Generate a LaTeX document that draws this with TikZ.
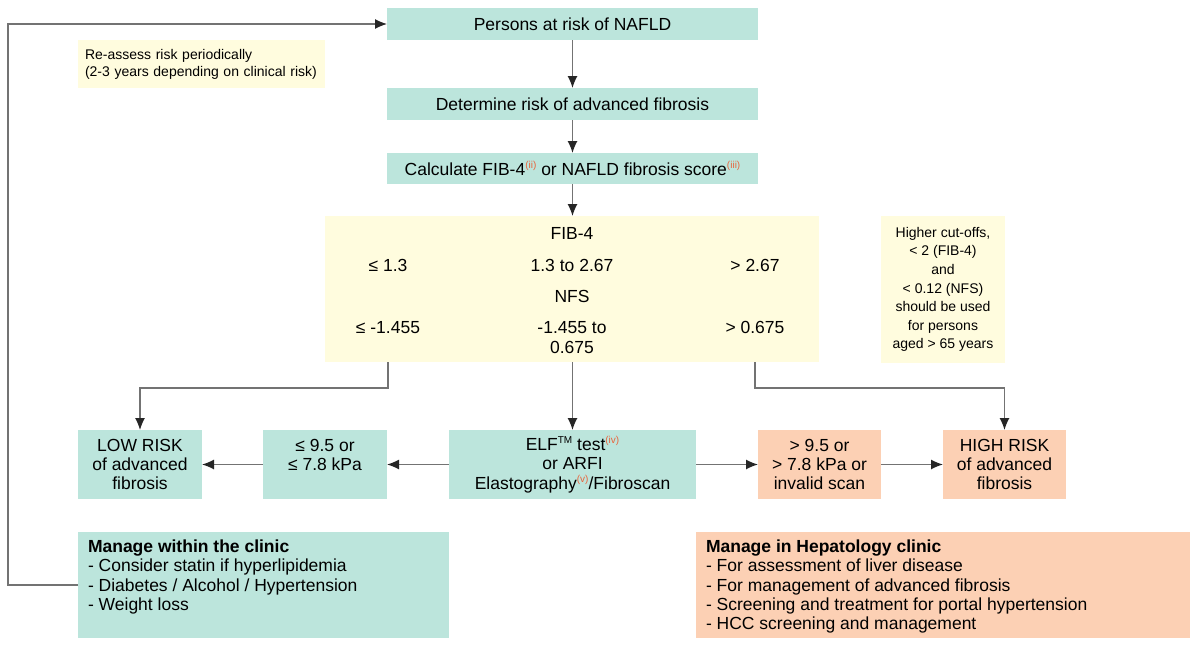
\documentclass[tikz,border=0pt]{standalone}
\usepackage{fontspec}
\setmainfont{Liberation Sans}
\usetikzlibrary{arrows.meta,calc}
\definecolor{teal0}{RGB}{188,229,220}
\definecolor{yel0}{RGB}{255,252,222}
\definecolor{sal0}{RGB}{252,208,180}
\definecolor{supc}{RGB}{232,100,60}
\definecolor{linec}{RGB}{115,115,115}
\newcommand{\refsup}[1]{\raisebox{7pt}{\fontsize{10}{10}\selectfont\color{supc}#1}}
\newcommand{\tmsup}{\raisebox{7pt}{\fontsize{10}{10}\selectfont TM}}
\begin{document}
\begin{tikzpicture}[x=1pt,y=-1pt,
  every node/.style={font=\fontsize{17.5}{19.3}\selectfont, inner sep=0pt, outer sep=0pt},
  tealbox/.style={fill=teal0},
  yelbox/.style={fill=yel0},
  salbox/.style={fill=sal0},
  rowbox/.style={minimum height=69pt, align=center},
  conn/.style={draw=linec, line width=1.2pt, -{Latex[length=12pt,width=10pt,color=black!85]}}
]
\useasboundingbox (0,0) rectangle (1200,659);

% top column
\node[tealbox, minimum width=371pt, minimum height=32pt] (top) at (572.5,24) {Persons at risk of NAFLD};
\node[tealbox, minimum width=371pt, minimum height=32pt] (det) at (572.5,104) {Determine risk of advanced fibrosis};
\node[tealbox, minimum width=371pt, minimum height=31pt] (calc) at (572.5,168.5) {Calculate FIB-4\refsup{(ii)} or NAFLD fibrosis score\refsup{(iii)}};

% notes
\node[yelbox, minimum width=247pt, minimum height=48pt, text width=233pt, align=left,
      font=\fontsize{14}{17}\selectfont] (re) at (201.5,64)
      {Re-assess risk periodically\\(2-3 years depending on clinical risk)};
\node[yelbox, minimum width=124pt, minimum height=147pt, align=center,
      font=\fontsize{14}{18.6}\selectfont] (note) at (943,289.5)
      {Higher cut-offs,\\< 2 (FIB-4)\\and\\< 0.12 (NFS)\\should be used\\for persons\\aged > 65 years};

% FIB-4 / NFS table
\node[yelbox, minimum width=494pt, minimum height=146pt] (fib) at (572,289) {};
\node[anchor=base] (fibh) at (572,239) {FIB-4};
\node[anchor=base] (f1) at (388,271) {≤ 1.3};
\node[anchor=base] (f2) at (572,271) {1.3 to 2.67};
\node[anchor=base] (f3) at (755,271) {> 2.67};
\node[anchor=base] (nfsh) at (572,302) {NFS};
\node[anchor=base] (n1) at (388,333) {≤ -1.455};
\node[anchor=base] (n2) at (572,333) {-1.455 to};
\node[anchor=base] (n2b) at (572,353) {0.675};
\node[anchor=base] (n3) at (755,333) {> 0.675};

% bottom row
\node[tealbox, rowbox, minimum width=124pt] (low) at (140,464.5) {LOW RISK\\of advanced\\fibrosis};
\node[tealbox, rowbox, minimum width=124pt] (le) at (325,464.5) {≤ 9.5 or\\≤ 7.8 kPa\\\phantom{X}};
\node[tealbox, rowbox, minimum width=247pt] (elf) at (572.5,464.5) {ELF\tmsup{} test\refsup{(iv)}\\or ARFI\\Elastography\refsup{(v)}/Fibroscan};
\node[salbox, rowbox, minimum width=123pt] (gt) at (819.5,464.5) {> 9.5 or\\> 7.8 kPa or\\invalid scan};
\node[salbox, rowbox, minimum width=123pt] (high) at (1004.5,464.5) {HIGH RISK\\of advanced\\fibrosis};

% management boxes
\node[tealbox, inner xsep=10pt, inner ysep=8pt] (mw) at (263.5,585)
  {\parbox[c][90pt][t]{351pt}{\raggedright\textbf{Manage within the clinic}\\- Consider statin if hyperlipidemia\\- Diabetes / Alcohol / Hypertension\\- Weight loss}};
\node[salbox, inner xsep=10pt, inner ysep=8pt] (mh) at (943,585)
  {\parbox[c][90pt][t]{474pt}{\raggedright\textbf{Manage in Hepatology clinic}\\- For assessment of liver disease\\- For management of advanced fibrosis\\- Screening and treatment for portal hypertension\\- HCC screening and management}};

% connectors
\coordinate (yb) at (0,388);
\draw[conn] (top) -- (det);
\draw[conn] (det) -- (calc);
\draw[conn] (calc.south) -- (calc.south |- fib.north);
\draw[conn] (f1 |- fib.south) -- (f1 |- yb) -| (low.north);
\draw[conn] (fib.south -| elf) -- (elf.north);
\draw[conn] (f3 |- fib.south) -- (f3 |- yb) -| (high.north);
\draw[conn] (elf) -- (le);
\draw[conn] (le) -- (low);
\draw[conn] (elf) -- (gt);
\draw[conn] (gt) -- (high);
\draw[conn] (mw.west) -- ++(-70,0) |- (top.west);
\end{tikzpicture}
\end{document}
